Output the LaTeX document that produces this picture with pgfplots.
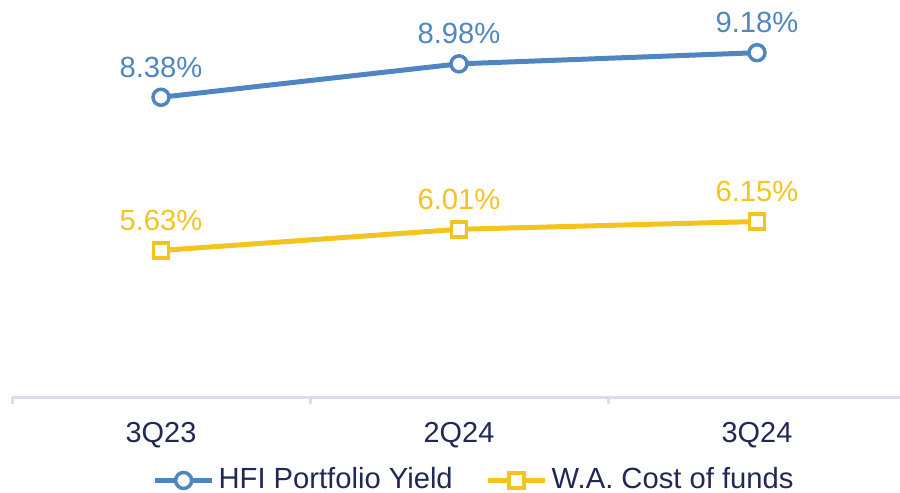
\documentclass[border=0pt]{standalone}
\usepackage{pgfplots}
\pgfplotsset{compat=1.18}
\usepackage{fontspec}
\setmainfont{Liberation Sans}
\definecolor{hfiblue}{RGB}{79,134,192}
\definecolor{cofyellow}{RGB}{243,195,30}
\definecolor{txtnavy}{RGB}{34,40,84}
\definecolor{axlav}{RGB}{217,219,240}
\begin{document}
\fontsize{14.5}{17}\selectfont
\begin{tikzpicture}
\path[use as bounding box] (-6bp,-48bp) rectangle (444bp,198.5bp);
\begin{axis}[
    scale only axis,
    width=447bp, height=195bp,
    xmin=-0.5, xmax=2.5,
    ymin=3, ymax=10,
    clip=false,
    axis x line=bottom,
    axis y line=none,
    x axis line style={axlav, line width=1.5bp, -},
    xtick={0,1,2},
    xticklabels={3Q23,2Q24,3Q24},
    major tick length=0pt,
    minor xtick={-0.5,0.5,1.5,2.5},
    minor tick length=3.5bp,
    tick align=outside,
    minor tick style={axlav, line width=1.5bp},
    xticklabel style={anchor=base, yshift=-22.5bp, text=txtnavy, font=\fontsize{14.5}{17}\selectfont},
    ytick=\empty,
    /pgf/number format/assume math mode=true,
    nodes near coords={\pgfmathprintnumber[fixed,fixed zerofill,precision=2,assume math mode=true]{\pgfplotspointmeta}\%},
    every node near coord/.append style={anchor=base, yshift=10bp, inner sep=0pt, font=\fontsize{14.65}{17}\selectfont},
    legend columns=2,
    legend style={at={(0.5157,-0.214)}, anchor=center, draw=none, fill=none,
        inner sep=0pt, nodes={inner sep=0pt},
        font=\fontsize{14.65}{17}\selectfont, text=txtnavy,
        /tikz/every odd column/.append style={column sep=2bp},
        /tikz/every even column/.append style={column sep=16.5bp}},
    legend image code/.code={
        \draw[mark repeat=2,mark phase=2] plot coordinates {(0bp,0bp) (14.25bp,0bp) (28.5bp,0bp)};
    },
]
\addplot[hfiblue, line width=2.5bp, mark=*, mark size=4bp,
    mark options={fill=white, line width=1.75bp},
    every node near coord/.append style={text=hfiblue}]
    coordinates {(0,8.38) (1,8.98) (2,9.18)};
\addlegendentry{HFI Portfolio Yield}
\addplot[cofyellow, line width=2.5bp, mark=square*, mark size=3.75bp,
    mark options={fill=white, line width=1.75bp},
    every node near coord/.append style={text=cofyellow}]
    coordinates {(0,5.63) (1,6.01) (2,6.15)};
\addlegendentry{W.A. Cost of funds}
\end{axis}
\end{tikzpicture}
\end{document}
